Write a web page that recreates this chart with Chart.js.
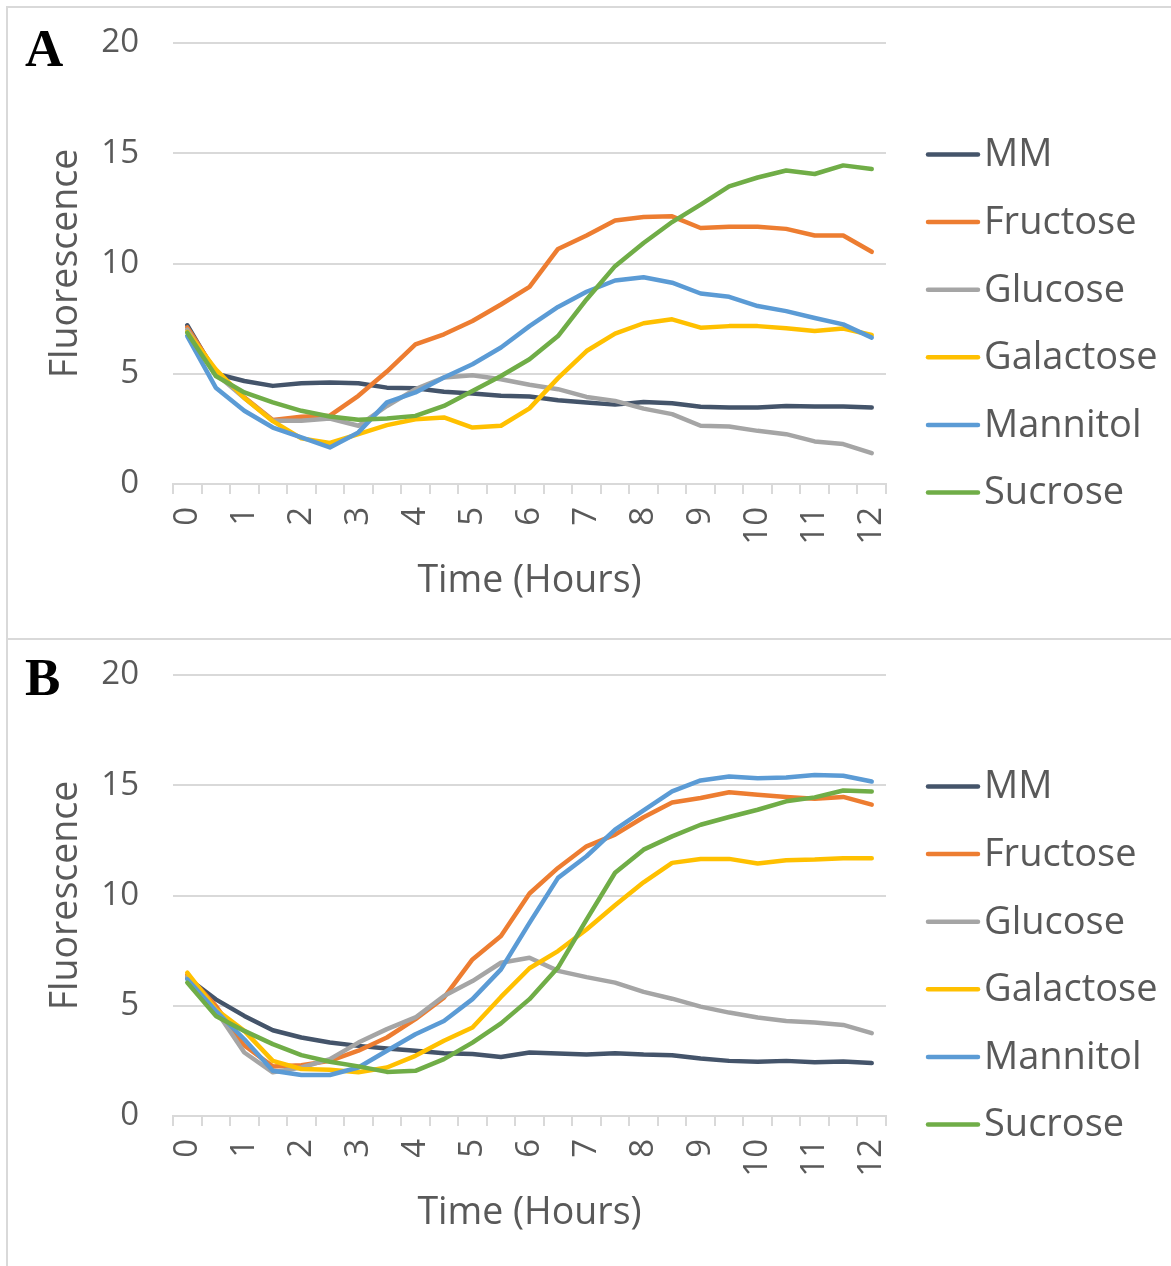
<!DOCTYPE html>
<html>
<head>
<meta charset="utf-8">
<script src="https://cdn.jsdelivr.net/npm/chart.js@4.4.0/dist/chart.umd.min.js"></script>
<style>
  html, body { margin: 0; padding: 0; background: #fff; }
  #page { position: relative; width: 1171px; height: 1266px; overflow: hidden; }
  .panel { position: absolute; left: 0; width: 1171px; height: 632px; }
  .rule { position: absolute; background: #d9d9d9; }
</style>
</head>
<body>
<div id="page">
  <div class="rule" style="left:6px;top:6px;width:1165px;height:2px"></div>
  <div class="rule" style="left:6px;top:638px;width:1165px;height:2px"></div>
  <div class="rule" style="left:6px;top:6px;width:2px;height:1260px"></div>
  <div class="panel" style="top:0"><canvas id="chartA"></canvas></div>
  <div class="panel" style="top:632px"><canvas id="chartB"></canvas></div>
</div>
<script>
// time points, every half hour
const hours = [0, 0.5, 1, 1.5, 2, 2.5, 3, 3.5, 4, 4.5, 5, 5.5, 6, 6.5, 7, 7.5, 8, 8.5, 9, 9.5, 10, 10.5, 11, 11.5, 12];
const seriesNames = ["MM", "Fructose", "Glucose", "Galactose", "Mannitol", "Sucrose"];
const yTicks = [0, 5, 10, 15, 20];

// panel A
const mmA        = [7.2, 5.0, 4.67, 4.45, 4.57, 4.6, 4.57, 4.37, 4.34, 4.18, 4.1, 4.0, 3.97, 3.8, 3.7, 3.6, 3.72, 3.66, 3.5, 3.47, 3.47, 3.54, 3.51, 3.51, 3.47];
const fructoseA  = [7.1, 5.1, 3.93, 2.9, 3.05, 3.1, 4.0, 5.1, 6.33, 6.79, 7.39, 8.14, 8.94, 10.66, 11.27, 11.95, 12.11, 12.14, 11.61, 11.67, 11.67, 11.57, 11.27, 11.27, 10.53];
const glucoseA   = [7.0, 5.0, 3.9, 2.87, 2.87, 2.97, 2.64, 3.54, 4.3, 4.83, 4.93, 4.75, 4.5, 4.3, 3.95, 3.77, 3.42, 3.17, 2.64, 2.61, 2.41, 2.26, 1.93, 1.81, 1.4];
const galactoseA = [6.9, 5.2, 3.9, 2.85, 2.07, 1.86, 2.26, 2.67, 2.94, 3.02, 2.56, 2.64, 3.43, 4.8, 6.03, 6.82, 7.29, 7.47, 7.09, 7.16, 7.16, 7.06, 6.94, 7.05, 6.76];
const mannitolA  = [6.71, 4.37, 3.32, 2.56, 2.11, 1.66, 2.34, 3.7, 4.15, 4.83, 5.43, 6.19, 7.16, 8.03, 8.72, 9.23, 9.38, 9.13, 8.64, 8.49, 8.07, 7.84, 7.53, 7.24, 6.64];
const sucroseA   = [6.86, 4.9, 4.15, 3.7, 3.32, 3.06, 2.91, 2.97, 3.09, 3.54, 4.22, 4.9, 5.66, 6.71, 8.37, 9.88, 10.93, 11.88, 12.67, 13.5, 13.9, 14.22, 14.06, 14.45, 14.29];

// panel B
const mmB        = [6.27, 5.29, 4.54, 3.89, 3.56, 3.33, 3.18, 3.06, 2.96, 2.85, 2.81, 2.68, 2.88, 2.84, 2.79, 2.85, 2.79, 2.76, 2.61, 2.5, 2.46, 2.5, 2.44, 2.47, 2.4];
const fructoseB  = [6.4, 5.0, 3.2, 2.25, 2.3, 2.5, 2.96, 3.56, 4.39, 5.37, 7.1, 8.16, 10.09, 11.25, 12.23, 12.76, 13.55, 14.22, 14.42, 14.68, 14.57, 14.47, 14.39, 14.47, 14.12];
const glucoseB   = [6.3, 4.8, 2.88, 1.98, 2.2, 2.58, 3.33, 3.94, 4.47, 5.44, 6.12, 6.95, 7.18, 6.58, 6.3, 6.05, 5.63, 5.32, 4.96, 4.69, 4.47, 4.31, 4.24, 4.13, 3.76];
const galactoseB = [6.5, 4.84, 3.86, 2.5, 2.13, 2.1, 1.98, 2.2, 2.73, 3.41, 4.01, 5.4, 6.7, 7.48, 8.46, 9.56, 10.6, 11.48, 11.66, 11.66, 11.45, 11.6, 11.63, 11.69, 11.69];
const mannitolB  = [6.2, 4.77, 3.48, 2.05, 1.86, 1.86, 2.2, 2.96, 3.71, 4.31, 5.3, 6.65, 8.76, 10.8, 11.78, 12.99, 13.86, 14.72, 15.22, 15.4, 15.32, 15.35, 15.46, 15.43, 15.17];
const sucroseB   = [6.05, 4.54, 3.86, 3.26, 2.76, 2.46, 2.25, 2.0, 2.05, 2.58, 3.33, 4.2, 5.3, 6.73, 8.91, 11.03, 12.08, 12.68, 13.21, 13.56, 13.89, 14.27, 14.45, 14.76, 14.72];

const lineColors = ["#44546A", "#ED7D31", "#A5A5A5", "#FFC000", "#5B9BD5", "#70AD47"];
const textColor = "#595959";
const gridColor = "#d9d9d9";
const FONT = "'Open Sans', 'Noto Sans', sans-serif";

// panel letter + legend drawn next to the plot like Excel does
const panelDecor = {
  id: "panelDecor",
  afterDraw(chart, args, opts) {
    const ctx = chart.ctx;
    ctx.save();
    ctx.fillStyle = "#000";
    ctx.font = "bold 53px 'Liberation Serif', serif";
    ctx.textBaseline = "alphabetic";
    ctx.fillText(opts.letter, 25, opts.letterBaseline);

    ctx.font = "38px " + FONT;
    ctx.textBaseline = "middle";
    chart.data.datasets.forEach((ds, i) => {
      const y = 154.5 + i * 67.6;
      ctx.strokeStyle = ds.borderColor;
      ctx.lineWidth = 4.5;
      ctx.lineCap = "round";
      ctx.beginPath();
      ctx.moveTo(928, y);
      ctx.lineTo(978, y);
      ctx.stroke();
      ctx.fillStyle = textColor;
      ctx.fillText(ds.label, 984, y + 1);
    });
    ctx.restore();
  }
};

function makeChart(id, letter, letterBaseline, series) {
  const ctx = document.getElementById(id).getContext("2d");
  return new Chart(ctx, {
    type: "line",
    data: {
      labels: hours,
      datasets: series.map((values, i) => ({
        label: seriesNames[i],
        data: values,
        borderColor: lineColors[i],
        backgroundColor: lineColors[i],
        borderWidth: 4.5,
        pointRadius: 0,
        tension: 0,
        borderCapStyle: "round",
        borderJoinStyle: "round",
        order: series.length - i
      }))
    },
    options: {
      responsive: true,
      maintainAspectRatio: false,
      animation: false,
      layout: { padding: { top: 43, right: 285, bottom: 0, left: 0 } },
      plugins: {
        legend: { display: false },
        tooltip: { enabled: false },
        panelDecor: { letter: letter, letterBaseline: letterBaseline }
      },
      scales: {
        x: {
          type: "category",
          offset: true,
          afterFit: (scale) => { scale.height = 148; },
          grid: {
            display: true,
            drawOnChartArea: false,
            drawTicks: true,
            tickLength: 10,
            offset: true,
            color: gridColor,
            lineWidth: 2
          },
          border: { display: true, color: gridColor, width: 2 },
          ticks: {
            autoSkip: false,
            minRotation: 90,
            maxRotation: 90,
            padding: 13,
            color: textColor,
            font: { family: FONT, size: 33 },
            callback: (val, index) => Number.isInteger(hours[index]) ? String(hours[index]) : ""
          },
          title: {
            display: true,
            text: "Time (Hours)",
            color: textColor,
            font: { family: FONT, size: 37.5 },
            padding: { top: 0, bottom: 28 }
          }
        },
        y: {
          min: yTicks[0],
          max: yTicks[yTicks.length - 1],
          afterFit: (scale) => {
            scale.width = 173;
            // the tick padding would otherwise push the plot top down
            scale.paddingTop = 0;
            scale.paddingBottom = 0;
          },
          afterBuildTicks: (scale) => { scale.ticks = yTicks.map((v) => ({ value: v })); },
          grid: { color: gridColor, lineWidth: 2, drawTicks: false },
          border: { display: false },
          ticks: {
            padding: 34,
            color: textColor,
            font: { family: FONT, size: 33 }
          },
          title: {
            display: true,
            text: "Fluorescence",
            color: textColor,
            font: { family: FONT, size: 37.5 },
            padding: { top: 44, bottom: 0 }
          }
        }
      }
    },
    plugins: [panelDecor]
  });
}

makeChart("chartA", "A", 66, [mmA, fructoseA, glucoseA, galactoseA, mannitolA, sucroseA]);
makeChart("chartB", "B", 63, [mmB, fructoseB, glucoseB, galactoseB, mannitolB, sucroseB]);
</script>
</body>
</html>
